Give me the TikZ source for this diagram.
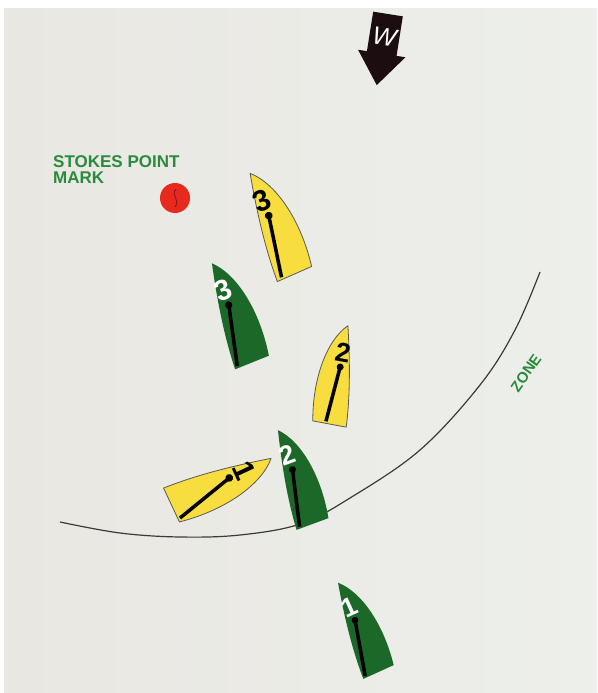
\documentclass[tikz,border=0pt]{standalone}
\usepackage{fontspec}
\setsansfont{Liberation Sans}
\usetikzlibrary{calc}

\definecolor{boardleft}{RGB}{233,231,226}
\definecolor{boardright}{RGB}{237,239,235}
\definecolor{boatyellow}{RGB}{247,221,62}
\definecolor{boatgreen}{RGB}{27,104,40}
\definecolor{labelgreen}{RGB}{42,138,62}
\definecolor{markred}{RGB}{232,42,30}
\definecolor{windblack}{RGB}{28,14,16}
\definecolor{zonegrey}{RGB}{58,58,58}

\tikzset{
  yellowhull/.style={fill=boatyellow, draw=black!65, line width=0.8pt},
  greenhull/.style={fill=boatgreen},
  boom/.style={line width=3.5pt, black},
  boatnum/.style={font=\sffamily\bfseries\fontsize{27}{27}\selectfont, inner sep=0pt},
  marklabel/.style={font=\sffamily\bfseries\fontsize{17}{16}\selectfont,
    text=labelgreen, align=left, inner sep=0pt},
  zonelabel/.style={font=\sffamily\bfseries\fontsize{15}{15}\selectfont,
    text=labelgreen, inner sep=0pt},
  windlabel/.style={font=\sffamily\itshape\fontsize{25}{25}\selectfont,
    text=white, inner sep=0pt},
  zoneline/.style={line width=1.2pt, zonegrey},
  pics/boat/.style n args={5}{code={
    \path[#1, line join=round, xscale=#5] (-17,0) -- (17,0)
      .. controls (25,-42) and (18,-82) .. (0,-100)
      .. controls (-7,-72) and (-15,-35) .. (-17,0) -- cycle;
    \draw[boom] (0,-58) -- (#4,-2);
    \fill (0,-58) circle (3.5pt);
    \node[boatnum, text=#3, transform shape] (-num) at (0,-73) {#2};
  }},
}

\begin{document}
\begin{tikzpicture}[x=1pt, y=-1pt]
  \useasboundingbox (0,0) rectangle (597,693);

  % whiteboard
  \fill[white] (0,0) rectangle (597,693);
  \shade[left color=boardleft, right color=boardright] (4,9) rectangle (597,693);

  % zone circle
  \draw[zoneline] plot[smooth, tension=0.6] coordinates {
    (60,522) (120,533) (180,537) (240,535) (300,524) (350,498)
    (420,450) (480,385) (515,330) (540,272)};
  \node[zonelabel, rotate=55] (zone) at (526,373) {ZONE};

  % wind
  \begin{scope}[shift={(388,14)}, rotate=-9]
    \fill[windblack] (-15,0) -- (15,0) -- (15,40) -- (24,40) -- (0,72)
      -- (-24,40) -- (-15,40) -- cycle;
    \node[windlabel, transform shape] (wind) at (0,23) {W};
  \end{scope}

  % mark
  \fill[markred] (175,198) circle (15pt);
  \draw[markred!55!black, line width=0.8pt]
    (176,189) .. controls (170,195) and (181,200) .. (175,207);
  \node[marklabel, anchor=north west] (mark) at (53,155) {STOKES POINT\\MARK};

  % boats
  \pic (y3) [rotate=23.8, scale=1.1] at (294.5,274) {boat={yellowhull}{3}{black}{-12}{1}};
  \pic (g3) [rotate=22, scale=1.07] at (252,362.5) {boat={greenhull}{3}{white}{-14}{1}};
  \pic (y2) [rotate=-10.6] at (329.5,424) {boat={yellowhull}{2}{black}{-4}{-1}};
  \pic (y1) [rotate=-64.9, scale=1.1] at (171.5,505) {boat={yellowhull}{1}{black}{14}{1}};
  \pic (g2) [rotate=20.2] at (312.5,524) {boat={greenhull}{2}{white}{-13}{1}};
  \pic (g1) [rotate=24.4, scale=0.98] at (378.5,672) {boat={greenhull}{1}{white}{-14}{1}};
\end{tikzpicture}
\end{document}
